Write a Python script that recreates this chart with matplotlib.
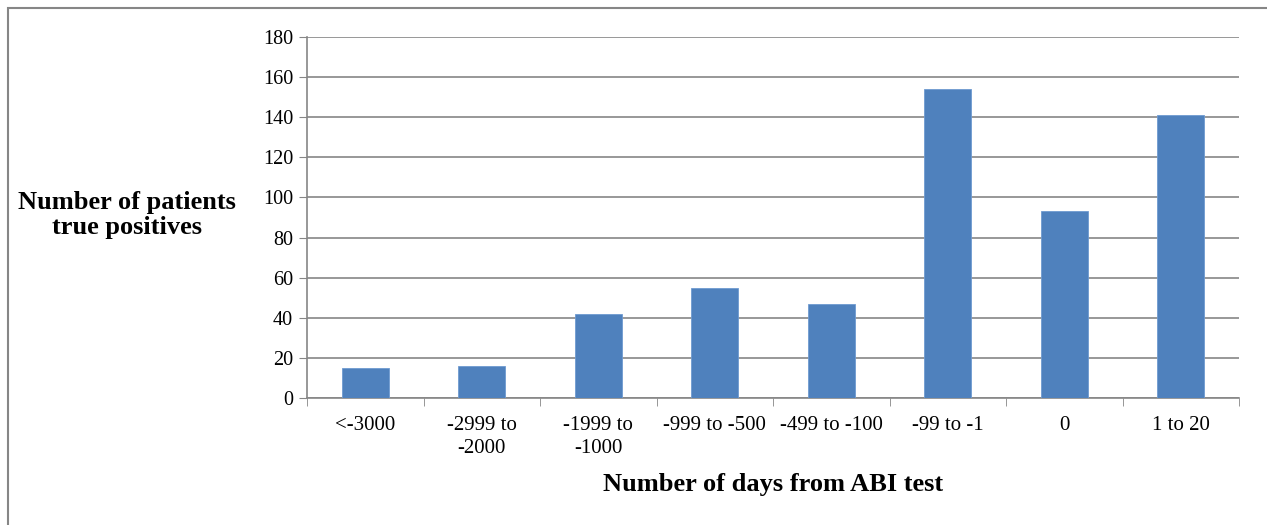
import numpy as np
import matplotlib
matplotlib.use("Agg")
import matplotlib.pyplot as plt
from matplotlib.patches import Rectangle

##Chart data
categories = ['<-3000', '-2999 to\n-2000', '-1999 to\n-1000', '-999 to -500',
              '-499 to -100', '-99 to -1', '0', '1 to 20']
patients = [15, 16, 42, 55, 47, 154, 93, 141]
yticks = [0, 20, 40, 60, 80, 100, 120, 140, 160, 180]

plt.rcParams['font.family'] = ['Liberation Serif', 'DejaVu Serif']
grey = '#868686'

fig = plt.figure(figsize=(12.67, 5.25), dpi=100)
ax = fig.add_axes([307/1267, 1-398/525, (1239-307)/1267, (398-37)/525])

x = np.arange(len(categories))
ax.bar(x, patients, width=0.4, color='#4F81BD', edgecolor='#6F9BD1', linewidth=0.6, zorder=3)

##Axes, grid and ticks
ax.set_xlim(-0.5, len(categories)-0.5)
ax.set_ylim(0, 180)
ax.set_yticks(yticks)
ax.set_xticks(x)
ax.set_xticklabels(categories, fontsize=15, linespacing=1.3)
ax.set_xticks(np.arange(-0.5, len(categories), 1), minor=True)
ax.tick_params(axis='x', which='major', length=0, pad=13)
ax.tick_params(axis='x', which='minor', length=6, color=grey, direction='out')
ax.tick_params(axis='y', length=6, color=grey, labelsize=14.5, pad=4)
ax.yaxis.grid(True, color=grey, linewidth=1.2, zorder=0)
for s in ['top', 'right']:
    ax.spines[s].set_visible(False)
for s in ['left', 'bottom']:
    ax.spines[s].set_color(grey)
    ax.spines[s].set_linewidth(1.2)

##Titles
fig.text(127/1267, 1-215/525, 'Number of patients\ntrue positives', fontsize=19,
         fontweight='bold', ha='center', va='center', linespacing=1.15)
fig.text(773/1267, 1-484/525, 'Number of days from ABI test', fontsize=19,
         fontweight='bold', ha='center', va='center')

##Outer frame (only left and top edges are visible in the picture)
fig.add_artist(Rectangle((8/1267, -0.1), 1.2, 1-8/525+0.1, transform=fig.transFigure,
                         fill=False, edgecolor=grey, linewidth=1.5))

plt.savefig('out.png', dpi=100)
